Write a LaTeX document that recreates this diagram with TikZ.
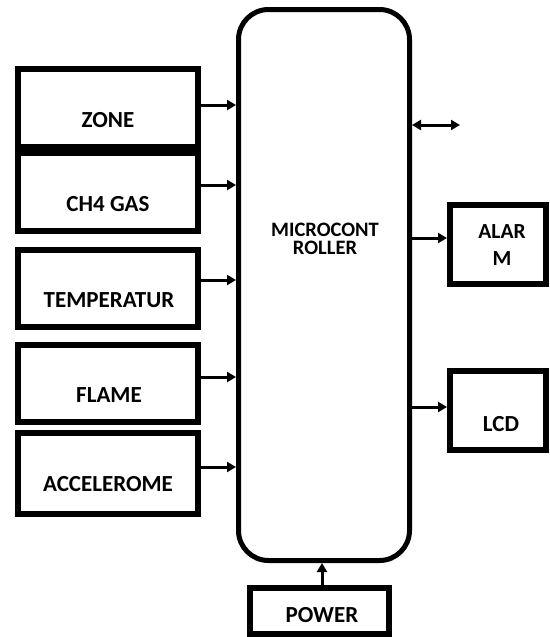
\documentclass[tikz,border=0pt]{standalone}
\usepackage{fontspec}
\setmainfont{Carlito}
\usetikzlibrary{arrows.meta}
\tikzset{
  blk/.style={draw=black, line width=6pt, rectangle, inner sep=0pt, minimum width=#1},
  lbl/.style={font=\fontsize{23}{23}\selectfont\bfseries, inner sep=0pt, align=center},
  conn/.style={line width=3pt, -{Triangle[length=9pt,width=10pt]}},
}
\begin{document}
\begin{tikzpicture}[x=1pt,y=-1pt]
\useasboundingbox (0,0) rectangle (549,637);
% left sensor boxes
\node[blk=180pt, minimum height=78pt] (zone) at (108,108) {};
\node[blk=180pt, minimum height=78pt] (ch4) at (108,192) {};
\node[blk=180pt, minimum height=77pt] (temp) at (108,288.5) {};
\node[blk=180pt, minimum height=77pt] (flame) at (108,383.5) {};
\node[blk=180pt, minimum height=81pt] (acc) at (108,473.5) {};
\node[lbl] (tzone) at (108,120) {ZONE};
\node[lbl] (tch4) at (108,204) {CH4 GAS};
\node[lbl] (ttemp) at (109,300) {TEMPERATUR};
\node[lbl] (tflame) at (109,395) {FLAME};
\node[lbl] (tacc) at (108,484) {ACCELEROME};
% microcontroller
\node[draw=black, line width=5pt, rounded corners=30pt, minimum width=171pt, minimum height=551pt, inner sep=0pt] (micro) at (324,285) {};
\node[lbl, font=\fontsize{20.5}{18.5}\selectfont\bfseries] (tmicro) at (325,239) {MICROCONT\\ROLLER};
% outputs
\node[blk=96pt, minimum height=79pt] (alarm) at (498,244.5) {};
\node[lbl, font=\fontsize{21.5}{27}\selectfont\bfseries] (talarm) at (502,245) {ALAR\\M};
\node[blk=96pt, minimum height=79pt] (lcd) at (498,410.5) {};
\node[lbl] (tlcd) at (501,424) {LCD};
\node[blk=139pt, minimum height=46pt] (power) at (319.5,611) {};
\node[lbl] (tpower) at (322,615) {POWER};
% connectors
\draw[conn] ([yshift=3pt]zone.east) -- ([yshift=3pt]zone.east -| micro.west);
\draw[conn] ([yshift=7pt]ch4.east) -- ([yshift=7pt]ch4.east -| micro.west);
\draw[conn] ([yshift=8.5pt]temp.east) -- ([yshift=8.5pt]temp.east -| micro.west);
\draw[conn] ([yshift=6.5pt]flame.east) -- ([yshift=6.5pt]flame.east -| micro.west);
\draw[conn] ([yshift=6.5pt]acc.east) -- ([yshift=6.5pt]acc.east -| micro.west);
\draw[conn] ([yshift=6.5pt]alarm.west -| micro.east) -- ([yshift=6.5pt]alarm.west);
\draw[conn] ([yshift=3.5pt]lcd.west -| micro.east) -- ([yshift=3.5pt]lcd.west);
\draw[conn] ([xshift=2.5pt]power.north) -- ([xshift=2.5pt]power.north |- micro.south);
\coordinate (bus) at (460,125);
\draw[line width=3pt, {Triangle[length=9pt,width=10pt]}-{Triangle[length=9pt,width=10pt]}] (bus -| micro.east) -- (bus);
\end{tikzpicture}
\end{document}
